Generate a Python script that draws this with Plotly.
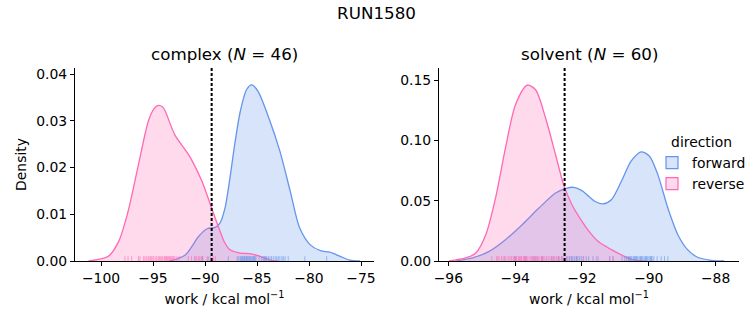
import plotly.graph_objects as go
from plotly.subplots import make_subplots

# ---------------- data ----------------
suptitle = "RUN1580"
panel_names = ["complex", "solvent"]
panel_n = [46, 60]

# KDE curves, complex
complex_fwd_x = [-93.4, -91.9, -90.6, -89.8, -89.0, -88.56, -88.08, -87.6, -87.1, -86.6, -86.0, -85.5,
                 -84.9, -83.75, -82.8, -81.8, -80.9, -79.9, -78.9, -78.0, -77.0, -76.1, -75.1]
complex_fwd_d = [0.0, 0.0013, 0.0053, 0.0069, 0.0072, 0.0081, 0.0113, 0.0178, 0.0256, 0.0321, 0.0367, 0.0377,
                 0.0363, 0.0299, 0.0235, 0.0149, 0.0071, 0.0035, 0.0022, 0.0019, 0.001, 0.0002, 0.0]
complex_rev_x = [-101.2, -99.3, -98.3, -97.4, -96.4, -95.45, -94.9, -94.5, -94.1, -93.85, -92.9, -91.9, -91.3,
                 -90.3, -89.36, -88.56, -88.1, -87.6, -86.6, -85.7, -84.7, -83.5, -83.0]
complex_rev_d = [0.0, 0.001, 0.0042, 0.0106, 0.0206, 0.0299, 0.0326, 0.0333, 0.0330, 0.0322, 0.027, 0.0238,
                 0.0217, 0.0171, 0.0113, 0.0064, 0.0039, 0.0024, 0.0017, 0.0016, 0.001, 0.0001, 0.0]

# KDE curves, solvent
solvent_fwd_x = [-95.78, -95.28, -94.78, -94.29, -93.79, -93.29, -92.79, -92.5, -92.25, -92.0, -91.8, -91.62,
                 -91.37, -91.12, -90.82, -90.53, -90.23, -89.98, -89.73, -89.43, -89.13, -88.84, -88.54,
                 -88.14, -87.74]
solvent_fwd_d = [0.0, 0.0025, 0.008, 0.0177, 0.0301, 0.0439, 0.0564, 0.06, 0.0611, 0.0583, 0.0536, 0.0495,
                 0.0473, 0.0508, 0.0661, 0.0827, 0.0905, 0.0868, 0.0716, 0.0439, 0.0218, 0.0094, 0.0031,
                 0.0006, 0.0]
solvent_rev_x = [-95.98, -95.48, -95.18, -94.88, -94.59, -94.29, -93.99, -93.64, -93.39, -93.09, -92.79,
                 -92.55, -92.3, -92.0, -91.8, -91.52, -91.12, -90.73, -90.43, -90.1]
solvent_rev_d = [0.0, 0.0025, 0.0066, 0.0218, 0.052, 0.0937, 0.1296, 0.1457, 0.142, 0.1186, 0.0881,
                 0.0633, 0.0467, 0.0329, 0.025, 0.0163, 0.0094, 0.0039, 0.0008, 0.0]

# individual work values (rug)
complex_rev_rug = [-97.7, -97.4, -97.05, -96.4, -96.25, -95.9, -95.77, -95.6, -95.45, -95.3, -95.2, -95.1,
                   -94.97, -94.8, -94.65, -94.5, -94.4, -94.3, -94.16, -94.05, -93.9, -93.8, -93.7, -93.6,
                   -93.5, -93.4, -93.3, -93.2, -93.1, -93.0, -92.9, -92.7, -92.5, -91.6, -91.3, -91.0,
                   -90.96, -90.8, -90.64, -90.5, -90.35, -90.2, -89.8, -89.5, -89.2, -89.0]
complex_fwd_rug = [-90.26, -89.7, -87.76, -86.9, -86.8, -86.63, -86.55, -86.47, -86.4, -86.3, -86.2, -86.15,
                   -86.05, -86.0, -85.9, -85.84, -85.75, -85.67, -85.6, -85.5, -85.4, -85.35, -85.25, -85.19,
                   -85.1, -84.8, -84.55, -84.4, -84.3, -84.23, -84.15, -84.07, -83.9, -83.75, -83.6, -83.43,
                   -83.25, -83.1, -82.95, -82.8, -82.6, -82.47, -82.3, -82.0, -80.4, -78.3]
solvent_rev_rug = [-94.7, -94.56, -94.52, -94.48, -94.41, -94.36, -94.32, -94.28, -94.21, -94.16, -94.11,
                   -94.06, -94.03, -94.01, -93.98, -93.96, -93.91, -93.88, -93.86, -93.83, -93.81, -93.76,
                   -93.73, -93.71, -93.68, -93.66, -93.62, -93.56, -93.52, -93.49, -93.46, -93.44, -93.41,
                   -93.36, -93.33, -93.31, -93.26, -93.21, -93.18, -93.16, -93.11, -93.06, -93.01, -92.96,
                   -92.91, -92.86, -92.84, -92.81, -92.76, -92.72, -92.67, -92.62, -92.57, -92.45, -92.37,
                   -92.17, -91.97, -91.57, -91.17, -91.07]
solvent_fwd_rug = [-94.0, -93.7, -93.4, -93.2, -92.9, -92.7, -92.6, -92.47, -92.42, -92.37, -92.32, -92.3,
                   -92.27, -92.22, -92.17, -92.15, -92.12, -92.07, -92.02, -91.95, -91.87, -91.8, -91.67,
                   -91.52, -91.17, -91.07, -90.8, -90.72, -90.67, -90.62, -90.6, -90.57, -90.55, -90.52,
                   -90.47, -90.45, -90.42, -90.4, -90.37, -90.35, -90.32, -90.27, -90.25, -90.22, -90.2,
                   -90.17, -90.12, -90.1, -90.07, -90.05, -90.02, -89.97, -89.95, -89.92, -89.9, -89.85,
                   -89.75, -89.63, -89.53, -89.43]

# estimate lines (dotted)
complex_estimate = -89.36
solvent_estimate = -92.52

# axis settings
complex_xrange = [-102.5, -73.75]
complex_yrange = [0, 0.0413]
solvent_xrange = [-96.28, -87.3]
solvent_yrange = [0, 0.16]

# ---------------- styles ----------------
FWD = "#6495ED"
REV = "#FF69B4"
FWD_FILL = "rgba(100,149,237,0.25)"
REV_FILL = "rgba(255,105,180,0.25)"
FWD_RUG = "rgba(100,149,237,0.6)"
REV_RUG = "rgba(255,105,180,0.6)"
FONT = "DejaVu Sans"

W, H = 753, 325
ML, MR, MT, MB = 75, 14, 68, 64

fig = make_subplots(rows=1, cols=2, horizontal_spacing=0.0979)


def kde(x, d, line, fill, col):
    fig.add_trace(go.Scatter(x=x, y=d, mode="lines", fill="tozeroy", fillcolor=fill,
                             line=dict(color=line, width=1.3, shape="spline", smoothing=0.8),
                             showlegend=False, hoverinfo="skip"), row=1, col=col)


def rug(vals, color, yr, col):
    h = 0.025 * (yr[1] - yr[0])
    xs, ys = [], []
    for v in vals:
        xs += [v, v, None]
        ys += [0, h, None]
    fig.add_trace(go.Scatter(x=xs, y=ys, mode="lines", line=dict(color=color, width=1),
                             showlegend=False, hoverinfo="skip"), row=1, col=col)


kde(complex_fwd_x, complex_fwd_d, FWD, FWD_FILL, 1)
kde(complex_rev_x, complex_rev_d, REV, REV_FILL, 1)
kde(solvent_fwd_x, solvent_fwd_d, FWD, FWD_FILL, 2)
kde(solvent_rev_x, solvent_rev_d, REV, REV_FILL, 2)
rug(complex_fwd_rug, FWD_RUG, complex_yrange, 1)
rug(complex_rev_rug, REV_RUG, complex_yrange, 1)
rug(solvent_fwd_rug, FWD_RUG, solvent_yrange, 2)
rug(solvent_rev_rug, REV_RUG, solvent_yrange, 2)

# legend entries
for name, fc, lc in [("forward", FWD_FILL, FWD), ("reverse", REV_FILL, REV)]:
    fig.add_trace(go.Bar(x=[None], y=[None], name=name, marker=dict(color=fc, line=dict(color=lc, width=1.2)),
                         showlegend=True), row=1, col=2)

fig.add_vline(x=complex_estimate, line=dict(color="black", width=2, dash="3px,2px"), row=1, col=1)
fig.add_vline(x=solvent_estimate, line=dict(color="black", width=2, dash="3px,2px"), row=1, col=2)

axis_common = dict(showgrid=False, zeroline=False, showline=True, linecolor="black", linewidth=1,
                   ticks="outside", ticklen=4, tickwidth=1, tickcolor="black",
                   tickfont=dict(family=FONT, size=13.9, color="black"))
xlab = "work / kcal mol<sup>−1</sup>"
fig.update_xaxes(range=complex_xrange, dtick=5, tick0=-100, row=1, col=1,
                 title=dict(text=xlab, font=dict(family=FONT, size=13.9, color="black"), standoff=9),
                 **axis_common)
fig.update_xaxes(range=solvent_xrange, dtick=2, tick0=-96, row=1, col=2,
                 title=dict(text=xlab, font=dict(family=FONT, size=13.9, color="black"), standoff=9),
                 **axis_common)
fig.update_yaxes(range=complex_yrange, dtick=0.01, tickformat=".2f", row=1, col=1,
                 title=dict(text="Density", font=dict(family=FONT, size=13.9, color="black"), standoff=6),
                 **axis_common)
fig.update_yaxes(range=solvent_yrange, dtick=0.05, tickformat=".2f", row=1, col=2, **axis_common)

dom1 = (374 - ML) / (W - ML - MR)
dom2 = (439 - ML) / (W - ML - MR)
fig.update_layout(xaxis=dict(domain=[0, dom1]), xaxis2=dict(domain=[dom2, 1]))

for i, (nm, n) in enumerate(zip(panel_names, panel_n)):
    xc = (0 + dom1) / 2 if i == 0 else (dom2 + 1) / 2
    fig.add_annotation(text=f"{nm} (<i>N</i> = {n})", x=xc, y=1, xref="paper", yref="paper",
                       xanchor="center", yanchor="bottom", yshift=2, showarrow=False,
                       font=dict(family=FONT, size=16.7, color="black"))

fig.update_layout(
    width=W, height=H,
    margin=dict(l=ML, r=MR, t=MT, b=MB, autoexpand=False),
    plot_bgcolor="white", paper_bgcolor="white",
    font=dict(family=FONT, color="black"),
    title=dict(text=suptitle, x=0.5, xref="container", xanchor="center",
               y=1 - 13 / H, yref="container", yanchor="middle",
               font=dict(family=FONT, size=16.7, color="black")),
    legend=dict(x=(652 - ML) / (W - ML - MR), y=(261 - 129) / (H - MT - MB), xanchor="left",
                yanchor="top", bgcolor="rgba(0,0,0,0)",
                font=dict(family=FONT, size=13.9, color="black"),
                title=dict(text="direction", side="top center", font=dict(family=FONT, size=13.9)),
                itemwidth=30, tracegroupgap=0),
    bargap=0,
)

fig.write_html("out.html")
